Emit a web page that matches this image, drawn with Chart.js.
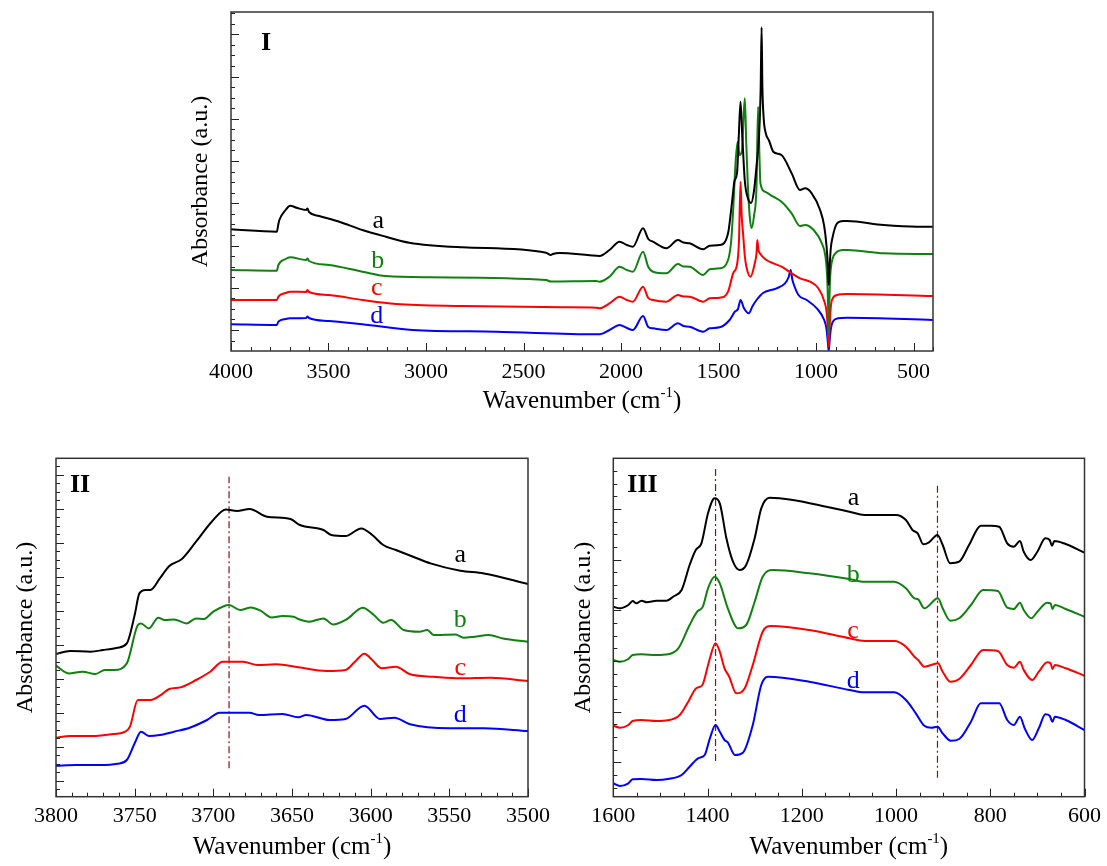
<!DOCTYPE html>
<html>
<head>
<meta charset="utf-8">
<script src="https://cdn.jsdelivr.net/npm/chart.js@4.4.1/dist/chart.umd.min.js"></script>
<style>
  html, body { margin: 0; padding: 0; background: #fff; }
  #wrap { position: relative; width: 1107px; height: 866px; overflow: hidden; }
  canvas { position: absolute; }
</style>
</head>
<body>
<div id="wrap">
  <canvas id="p1" width="820" height="440" style="left:140px;top:0"></canvas>
  <canvas id="p2" width="560" height="426" style="left:0;top:440px"></canvas>
  <canvas id="p3" width="547" height="426" style="left:560px;top:440px"></canvas>
</div>
<script>
/* FTIR spectra — three panels, curves a-d offset vertically (a.u.) */
const FONT = '"Liberation Serif", "Times New Roman", serif';
const COLORS = ['#000000', '#108010', '#ff0000', '#0000ff'];
const NAMES = ['a', 'b', 'c', 'd'];

// Panel I: 4000-400 cm-1, [wavenumber, absorbance]
const specIa = [[4000,121.7],[3765,119.3],[3757,127],[3752,131],[3720,141],[3697,145.3],[3660,143],[3615,141],[3608,142.5],[3600,139],[3548,135],[3445,129.3],[3326,121],[3206,114.3],[3086,108.3],[2812,103.7],[2384,98.3],[2360,96],[2350,97],[2315,98],[2161,95.7],[2110,95],[2059,101],[2007,109.3],[1970,106],[1939,104.3],[1887,122.7],[1860,112],[1836,109.3],[1767,102.7],[1708,111],[1680,108.5],[1648,107.7],[1579,101.7],[1545,105.3],[1494,106],[1451,117.7],[1430,150],[1418,170],[1405,178],[1396,215],[1387,249.3],[1378,215],[1365,170],[1348,152],[1333,148],[1318,160],[1305,185],[1292,215],[1284,260],[1279,323.7],[1275,265],[1268,232],[1258,218],[1240,210],[1219,199.3],[1177,196],[1125,177.7],[1082,161],[1056,162.7],[1022,157.7],[979,141],[958,125],[946,105],[939,85],[935,66],[930,85],[924,103],[918,111],[892,127.7],[860,130],[841,130],[653,126],[482,124.3],[400,124.3]];
const specIb = [[4000,81],[3765,80.3],[3757,86],[3720,92],[3697,93.7],[3615,91],[3608,92.5],[3600,90],[3497,86],[3326,79.3],[3206,75],[2983,73.7],[2384,71],[2360,69.5],[2127,70],[2110,69.3],[2059,74.3],[2007,84.3],[1970,81],[1939,79.3],[1887,99.3],[1860,84],[1836,79.3],[1767,77.7],[1708,87],[1680,84.5],[1648,84.3],[1579,76],[1545,81.7],[1494,82.7],[1451,91],[1435,110],[1425,140],[1412,190],[1402,209],[1392,196],[1380,200],[1371,235],[1365,252.7],[1358,210],[1350,168],[1340,135],[1331,122.7],[1318,135],[1305,165],[1297,244.3],[1290,195],[1285,167.7],[1262,159.3],[1219,154.3],[1177,149.3],[1125,137.7],[1082,125],[1056,126],[1012,121],[970,107.7],[952,95],[943,75],[938,45],[935,18],[932,45],[927,75],[923,84.3],[901,97.7],[860,101],[841,101],[653,97.7],[400,97]];
const specIc = [[4000,51],[3765,51],[3757,54.3],[3720,58],[3697,59.3],[3615,59],[3608,61],[3600,59],[3497,56],[3326,51],[3154,47],[2812,45],[2298,43.7],[2127,43.3],[2110,42.7],[2059,47.7],[2007,54.3],[1970,51],[1939,49.3],[1887,64.3],[1860,53],[1836,51],[1767,49.3],[1708,56],[1680,54.5],[1648,54.3],[1579,49.3],[1545,52.7],[1494,53.3],[1451,59.3],[1425,77.7],[1404,87.7],[1395,110],[1387,169.3],[1381,135],[1374,117.7],[1365,95],[1357,84.3],[1336,74.3],[1314,87.7],[1305,98],[1301,111],[1295,101],[1288,97.7],[1254,91],[1219,87.7],[1177,84.3],[1125,77.7],[1082,72.7],[1031,69.3],[988,62.7],[958,50],[945,38],[939,20],[935,4.3],[931,20],[925,42],[918,51],[892,56],[841,57],[400,55]];
const specId = [[4000,26.7],[3765,26],[3757,29.3],[3720,32],[3697,32.7],[3615,33],[3608,34.5],[3600,33],[3497,30],[3326,26.7],[3069,21],[2641,19.3],[2127,16.7],[2110,16.7],[2059,21],[2007,26],[1970,23],[1939,21],[1887,35],[1860,24],[1836,22.7],[1767,21],[1708,27.7],[1680,25],[1648,24.3],[1579,19.3],[1545,22.7],[1494,23.7],[1443,31],[1416,39.3],[1400,42],[1387,51],[1370,43],[1345,37.7],[1325,45],[1305,51],[1270,58.3],[1202,62.7],[1159,67.7],[1140,74],[1130,81],[1122,72],[1116,67.7],[1090,56],[1048,51],[996,42.7],[958,31],[946,22],[939,8],[935,0],[931,8],[924,22],[914,29.3],[887,32.7],[841,33.3],[400,31]];

// Panel II: 3800-3500 cm-1
const specIIa = [[3800,142.7],[3791,145.7],[3778,145],[3770,146.7],[3761,149],[3755,153.3],[3750,181.7],[3747,203.3],[3743,206.7],[3740,206.7],[3734,218.3],[3728,230.7],[3720,237.7],[3711,255],[3701,275],[3692,287.3],[3685,285.7],[3677,287.7],[3666,280],[3651,277.7],[3645,271.7],[3630,266.7],[3625,261.7],[3616,260.7],[3606,268.3],[3599,261.7],[3592,251.7],[3584,246.7],[3573,240],[3562,233.3],[3543,226],[3528,223.3],[3500,212.7]];
const specIIb = [[3800,131],[3792,123.3],[3783,125],[3775,122.7],[3769,126.7],[3763,126.7],[3755,133.3],[3748,171.7],[3746,173.3],[3741,168.3],[3735,179],[3731,176.7],[3725,177.3],[3717,173.3],[3711,178.3],[3706,177.7],[3700,185],[3690,191.7],[3683,186.7],[3676,189.3],[3670,186],[3663,179.3],[3656,180.7],[3649,180],[3646,177.7],[3639,175],[3630,178.3],[3624,172.3],[3615,177.7],[3605,189],[3598,181.7],[3592,174],[3587,176.7],[3579,166.7],[3569,165],[3564,166.7],[3560,161.7],[3546,162.3],[3541,159],[3534,160],[3525,161.7],[3516,158.3],[3500,155]];
const specIIc = [[3800,59],[3791,60.7],[3776,60.7],[3766,62.3],[3756,65],[3753,70],[3748,96.7],[3740,96.7],[3734,101],[3728,107.7],[3721,109.3],[3711,116.7],[3702,125],[3694,135],[3681,135],[3672,131.7],[3660,132.4],[3646,129.4],[3628,125.7],[3616,126.7],[3610,135],[3604,143],[3599,136.7],[3593,128.4],[3584,130],[3575,122.4],[3560,120],[3543,118.4],[3524,119],[3500,115.7]];
const specIId = [[3800,31],[3787,31.7],[3772,31.7],[3761,33],[3755,36.7],[3750,53.4],[3746,65],[3741,60.7],[3734,61.7],[3725,65],[3715,69],[3704,76.7],[3696,84],[3685,84],[3677,84],[3671,81.7],[3656,82.7],[3646,79.4],[3641,81.7],[3626,76.7],[3616,77.7],[3604,91],[3594,77.7],[3585,79],[3575,72.4],[3550,68.4],[3528,68.4],[3500,65.7]];

// Panel III: 1600-600 cm-1
const specIIIa = [[1600,190],[1586,188.4],[1568,191.7],[1559,195.7],[1551,193.4],[1540,196],[1529,194.4],[1508,196],[1487,196],[1473,200],[1455,206.7],[1438,231.7],[1425,246.7],[1413,253.4],[1399,283.4],[1385,298.4],[1374,293.4],[1360,258.4],[1346,235],[1332,226.7],[1318,231.7],[1300,258.4],[1286,288.4],[1268,299],[1219,296.7],[1148,290],[1099,285],[1067,281.7],[1000,281.7],[979,276.7],[965,266.7],[954,263.4],[942,252.4],[930,254.4],[912,261.7],[901,251.7],[885,233.4],[866,235],[845,251.7],[820,271],[799,271],[781,270],[764,253.4],[750,250],[737,255.7],[729,245],[714,236.7],[700,245],[683,258.4],[674,256.7],[669,251],[664,255.7],[644,253.4],[600,244]];
const specIIIb = [[1600,136.7],[1586,135],[1568,137.7],[1559,141.7],[1540,142.4],[1508,141.7],[1484,142.4],[1462,148.4],[1438,171.7],[1422,185],[1410,190],[1399,208.4],[1385,220],[1374,213.4],[1357,188.4],[1335,168.4],[1318,171.7],[1300,195],[1283,220],[1261,226.7],[1184,223.4],[1099,217.7],[1067,215],[1004,215],[979,208.4],[961,198.4],[953,197.4],[940,188.4],[911,198.4],[901,188.4],[885,176],[866,178.4],[841,191.7],[815,206.7],[784,205.7],[764,189],[750,187.7],[737,194],[729,186.7],[713,178.4],[700,185],[679,194],[672,193.4],[668,187.7],[663,191.7],[640,187.7],[600,180]];
const specIIIc = [[1600,71],[1586,69],[1568,71.7],[1559,75.7],[1540,76.7],[1508,75.7],[1484,76.4],[1459,81.7],[1441,95],[1424,108.4],[1411,111.7],[1397,135],[1383,153.4],[1374,145],[1364,128.4],[1354,120],[1339,103.4],[1321,108.4],[1304,131.7],[1283,165],[1265,170.7],[1184,166.7],[1099,158.4],[1067,155.7],[1004,155.7],[979,150],[961,140],[953,136.7],[940,130],[911,133.4],[901,125],[885,115],[866,117.7],[841,131.7],[815,146.7],[784,145.7],[764,131.7],[750,129],[737,135],[729,126.7],[711,116.7],[697,125],[679,134.4],[672,133.4],[668,127.7],[663,131.7],[640,128.4],[600,121]];
const specIIId = [[1600,13.4],[1586,10.7],[1568,13.4],[1559,17.4],[1540,17.7],[1508,16.7],[1484,17.7],[1455,21.7],[1438,30],[1420,38.4],[1406,41.7],[1395,58.4],[1383,71.7],[1374,65],[1364,56.7],[1357,54.4],[1342,41.7],[1325,44],[1304,71.7],[1286,111.7],[1272,120],[1184,115],[1099,106.7],[1067,104.4],[1004,104.4],[979,96.7],[958,83.4],[940,71],[925,69],[912,70],[901,63.4],[884,56],[866,57.7],[841,75],[820,93.4],[781,93.4],[764,76.7],[750,71.7],[737,80],[727,68.4],[711,56.7],[697,68.4],[683,82.4],[674,81],[668,75],[663,80],[640,76.7],[600,66.7]];

// dash-dot guide lines: [wavenumber, from, to]
const guidesII = [[3690, 28.4, 320]];
const guidesIII = [[1383, 35.7, 328.4], [912, 19, 311]];

// curve label anchors: [wavenumber, absorbance]
const labelsI = [[3245, 122.7], [3248, 82.7], [3253, 56], [3253, 27.7]];
const labelsII = [[3543, 235], [3543, 170], [3543, 121.7], [3543, 75]];
const labelsIII = [[1090, 291.7], [1091, 215], [1091, 158.4], [1091, 108.4]];

const axisDeco = {
  id: 'axisDeco',
  afterDraw(chart, _args, o) {
    const { ctx, chartArea: a, scales: { x, y } } = chart;
    ctx.save();

    // inward tick marks
    ctx.strokeStyle = '#222';
    ctx.lineWidth = 1;
    ctx.beginPath();
    x.ticks.forEach(t => {
      const px = Math.round(x.getPixelForValue(t.value)) + 0.5;
      const len = Math.round(t.value) % o.xMajor === 0 ? 8 : 4;
      ctx.moveTo(px, a.bottom); ctx.lineTo(px, a.bottom - len);
    });
    const minor = o.yStep / 4;
    for (let k = Math.ceil((y.min - o.yStart) / minor); o.yStart + k * minor <= y.max; k++) {
      const py = Math.round(y.getPixelForValue(o.yStart + k * minor)) + 0.5;
      const len = k % 4 === 0 ? 8 : 4;
      ctx.moveTo(a.left, py); ctx.lineTo(a.left + len, py);
    }
    ctx.stroke();

    // frame
    ctx.lineWidth = 1.5;
    ctx.strokeStyle = '#333';
    ctx.strokeRect(a.left, a.top, a.width, a.height);

    // curve labels
    ctx.font = `26px ${FONT}`;
    ctx.textAlign = 'center';
    ctx.textBaseline = 'alphabetic';
    o.labels.forEach(([wx, wy], i) => {
      ctx.fillStyle = COLORS[i];
      ctx.fillText(NAMES[i], x.getPixelForValue(wx), y.getPixelForValue(wy));
    });

    // panel tag
    ctx.fillStyle = '#000';
    ctx.textAlign = 'left';
    ctx.font = `bold 26px ${FONT}`;
    ctx.fillText(o.tag, a.left + o.tagDx, a.top + o.tagDy);

    // x title with superscript
    const base = a.bottom + 57;
    ctx.font = `25px ${FONT}`;
    const t1 = 'Wavenumber (cm', t3 = ')';
    const w1 = ctx.measureText(t1).width, w3 = ctx.measureText(t3).width;
    ctx.font = `15px ${FONT}`;
    const w2 = ctx.measureText('-1').width;
    let sx = (a.left + a.right) / 2 - (w1 + w2 + w3) / 2;
    ctx.font = `25px ${FONT}`;
    ctx.fillText(t1, sx, base);
    ctx.font = `15px ${FONT}`;
    ctx.fillText('-1', sx + w1, base - 11);
    ctx.font = `25px ${FONT}`;
    ctx.fillText(t3, sx + w1 + w2, base);

    // y title
    ctx.font = `24px ${FONT}`;
    ctx.translate(a.left - 30, (a.top + a.bottom) / 2);
    ctx.rotate(-Math.PI / 2);
    ctx.textAlign = 'center';
    ctx.textBaseline = 'middle';
    ctx.fillText('Absorbance (a.u.)', 0, 0);
    ctx.restore();
  }
};

function spectrumChart(id, p) {
  const datasets = p.series.map((s, i) => ({
    data: s.map(([x, y]) => ({ x, y })),
    borderColor: COLORS[i], borderWidth: 2,
    pointRadius: 0, cubicInterpolationMode: 'monotone', fill: false
  }));
  (p.guides || []).forEach(([gx, y0, y1]) => datasets.push({
    data: [{ x: gx, y: y0 }, { x: gx, y: y1 }],
    borderColor: '#8b1010', borderWidth: 1.2, borderDash: [7, 3, 2, 3],
    pointRadius: 0, tension: 0, fill: false
  }));

  return new Chart(document.getElementById(id), {
    type: 'line',
    data: { datasets },
    options: {
      responsive: false, animation: false, devicePixelRatio: 1, events: [],
      layout: { padding: p.pad },
      plugins: {
        legend: { display: false }, tooltip: { enabled: false },
        axisDeco: { xMajor: p.xMajor, yStart: p.yStart, yStep: p.yStep, labels: p.labels, tag: p.tag, tagDx: p.tagDx, tagDy: p.tagDy }
      },
      scales: {
        x: {
          type: 'linear', reverse: true, min: p.xMin, max: p.xMax,
          grid: { display: false, drawTicks: false }, border: { display: false },
          ticks: {
            stepSize: p.xMinor, autoSkip: false, maxRotation: 0, padding: p.tickPad,
            color: '#000', font: { family: FONT, size: 22 },
            callback: v => Math.round(v) % p.xMajor === 0 ? String(Math.round(v)) : ''
          },
          afterFit: s => { s.height = p.xHeight; }
        },
        y: { type: 'linear', display: false, min: 0, max: p.yMax }
      }
    },
    plugins: [axisDeco]
  });
}

spectrumChart('p1', {
  series: [specIa, specIb, specIc, specId], labels: labelsI,
  xMin: 400, xMax: 4000, xMinor: 100, xMajor: 500,
  yMax: 339, yStart: 21, yStep: 42.24,
  pad: { left: 91, right: 27, top: 12, bottom: 0 }, xHeight: 89, tickPad: 8,
  tag: 'I', tagDx: 30, tagDy: 38
});

spectrumChart('p2', {
  series: [specIIa, specIIb, specIIc, specIId], labels: labelsII, guides: guidesII,
  xMin: 3500, xMax: 3800, xMinor: 10, xMajor: 50,
  yMax: 338.4, yStart: 16, yStep: 33.97,
  pad: { left: 56, right: 32, top: 18.3, bottom: 0 }, xHeight: 69.3, tickPad: 6,
  tag: 'II', tagDx: 14, tagDy: 34
});

spectrumChart('p3', {
  series: [specIIIa, specIIIb, specIIIc, specIIId], labels: labelsIII, guides: guidesIII,
  xMin: 600, xMax: 1600, xMinor: 50, xMajor: 200,
  yMax: 338.4, yStart: 34.4, yStep: 50.66,
  pad: { left: 53.3, right: 21.3, top: 18.3, bottom: 0 }, xHeight: 69.3, tickPad: 6,
  tag: 'III', tagDx: 14, tagDy: 34
});
</script>
</body>
</html>
